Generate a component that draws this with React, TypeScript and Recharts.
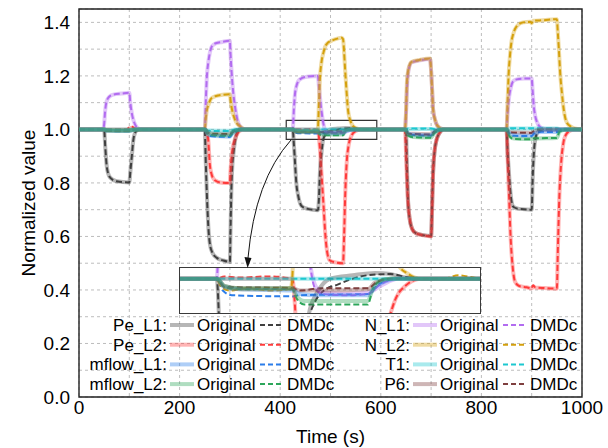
import { CartesianGrid, Line, LineChart, ReferenceArea, XAxis, YAxis } from "recharts";

type P = [number, number];

// [time (s), normalized value]
const peL1Orig: P[] = [
  [0, 1], [50, 1], [52, 0.94], [55, 0.865], [58, 0.835], [62, 0.82], [75, 0.806], [100, 0.802], [102, 0.84], [105, 0.9], [108, 0.96], [111, 0.985], [116, 0.997], [125, 1],
  [250, 1], [252, 0.88], [255, 0.72], [257, 0.64], [260, 0.575], [265, 0.54], [274, 0.52], [287, 0.51], [300, 0.505], [301, 0.6], [303, 0.78], [305, 0.87], [307, 0.91], [310, 0.955], [313, 0.982], [320, 1],
  [425, 1], [427, 0.95], [429, 0.89], [432, 0.8], [436, 0.75], [443, 0.713], [455, 0.703], [475, 0.698], [477, 0.74], [479, 0.84], [482, 0.91], [486, 0.97], [490, 0.985], [495, 0.995], [500, 1], [515, 1.003], [530, 1.005], [540, 1.004], [550, 1.001], [560, 1],
  [650, 1], [652, 0.86], [654, 0.74], [657, 0.67], [662, 0.63], [670, 0.612], [685, 0.605], [700, 0.602], [702, 0.72], [704, 0.84], [707, 0.92], [711, 0.962], [716, 0.985], [725, 1],
  [850, 1], [852, 0.92], [854, 0.86], [857, 0.78], [860, 0.73], [864, 0.71], [875, 0.703], [900, 0.7], [902, 0.82], [905, 0.93], [908, 0.97], [912, 0.99], [920, 1], [1000, 1],
];
const peL1Dmdc: P[] = [
  [0, 1], [50, 1], [52, 0.94], [55, 0.865], [58, 0.835], [62, 0.82], [75, 0.806], [100, 0.802], [102, 0.84], [105, 0.9], [108, 0.96], [111, 0.985], [116, 0.997], [125, 1],
  [250, 1], [252, 0.88], [255, 0.72], [257, 0.64], [260, 0.575], [265, 0.54], [274, 0.52], [287, 0.51], [300, 0.505], [301, 0.6], [303, 0.78], [305, 0.87], [307, 0.91], [310, 0.955], [313, 0.982], [320, 1],
  [425, 1], [427, 0.95], [429, 0.89], [432, 0.8], [436, 0.75], [443, 0.713], [455, 0.703], [475, 0.698], [477, 0.74], [479, 0.84], [482, 0.91], [486, 0.965], [490, 0.98], [496, 0.99], [505, 0.995], [515, 1], [525, 1.003], [540, 1.004], [552, 1.001], [565, 1],
  [650, 1], [652, 0.86], [654, 0.74], [657, 0.67], [662, 0.63], [670, 0.612], [685, 0.605], [700, 0.602], [702, 0.72], [704, 0.84], [707, 0.92], [711, 0.962], [716, 0.985], [725, 1],
  [850, 1], [852, 0.92], [854, 0.86], [857, 0.78], [860, 0.73], [864, 0.71], [875, 0.703], [900, 0.7], [902, 0.82], [905, 0.93], [908, 0.97], [912, 0.99], [920, 0.998], [928, 1.003], [938, 1], [1000, 1],
];
const peL2Orig: P[] = [
  [0, 1], [95, 1], [100, 1.003], [105, 1.006], [112, 1.002], [120, 1],
  [250, 1], [254, 0.99], [257, 0.96], [260, 0.87], [264, 0.83], [270, 0.81], [284, 0.801], [300, 0.8], [301, 0.84], [303, 0.89], [306, 0.935], [310, 0.963], [315, 0.985], [322, 0.997], [330, 1],
  [475, 1], [478, 0.95], [482, 0.84], [486, 0.72], [490, 0.6], [494, 0.535], [499, 0.51], [510, 0.503], [525, 0.5], [527, 0.6], [529, 0.74], [532, 0.87], [536, 0.94], [542, 0.978], [550, 0.994], [560, 1],
  [648, 1], [651, 0.86], [654, 0.73], [658, 0.66], [663, 0.625], [670, 0.612], [685, 0.604], [700, 0.6], [702, 0.7], [704, 0.84], [707, 0.92], [711, 0.962], [716, 0.985], [725, 1],
  [850, 1], [852, 0.9], [855, 0.75], [858, 0.6], [862, 0.49], [867, 0.43], [875, 0.415], [890, 0.41], [900, 0.406], [903, 0.414], [907, 0.409], [925, 0.407], [950, 0.405], [952, 0.55], [955, 0.75], [958, 0.86], [963, 0.95], [968, 0.98], [975, 0.994], [985, 1], [1000, 1],
];
const peL2Dmdc: P[] = [
  [0, 1], [95, 1], [100, 1.008], [104, 1.012], [110, 1.004], [120, 1],
  [250, 1], [254, 0.99], [257, 0.96], [260, 0.87], [264, 0.83], [270, 0.81], [284, 0.801], [300, 0.8], [301, 0.84], [303, 0.89], [306, 0.935], [310, 0.963], [315, 0.985], [322, 0.997], [330, 1],
  [425, 1], [430, 1.002], [440, 1.001], [460, 1.002], [475, 1], [478, 0.95], [482, 0.84], [486, 0.72], [490, 0.6], [494, 0.535], [499, 0.51], [510, 0.503], [525, 0.5], [527, 0.6], [529, 0.74], [532, 0.87], [536, 0.94], [542, 0.978], [550, 0.994], [560, 1],
  [648, 1], [651, 0.86], [654, 0.73], [658, 0.66], [663, 0.625], [670, 0.612], [685, 0.604], [700, 0.6], [702, 0.7], [704, 0.84], [707, 0.92], [711, 0.962], [716, 0.985], [725, 1],
  [850, 1], [852, 0.9], [855, 0.75], [858, 0.6], [862, 0.49], [867, 0.43], [875, 0.415], [890, 0.41], [900, 0.406], [903, 0.418], [907, 0.41], [925, 0.407], [950, 0.405], [952, 0.55], [955, 0.75], [958, 0.86], [963, 0.95], [968, 0.98], [975, 0.994], [985, 1], [1000, 1],
];
const mflowL1Orig: P[] = [
  [0, 1], [50, 1], [55, 0.995], [100, 0.994], [110, 0.999], [120, 1],
  [250, 1], [255, 0.985], [262, 0.976], [300, 0.973], [305, 0.985], [315, 0.997], [325, 1],
  [425, 1], [430, 0.993], [440, 0.991], [475, 0.99], [480, 0.987], [490, 0.986], [525, 0.986], [530, 0.993], [537, 0.998], [545, 1],
  [648, 1], [655, 0.985], [665, 0.98], [700, 0.978], [706, 0.99], [715, 0.998], [725, 1],
  [850, 1], [856, 0.985], [865, 0.978], [900, 0.976], [905, 0.985], [920, 0.99], [950, 0.99], [956, 0.997], [965, 1], [1000, 1],
];
const mflowL1Dmdc: P[] = [
  [0, 1], [50, 1], [55, 0.994], [100, 0.993], [110, 0.999], [120, 1],
  [250, 1], [255, 0.983], [262, 0.975], [300, 0.972], [305, 0.985], [315, 0.997], [325, 1],
  [425, 1], [429, 0.99], [435, 0.986], [475, 0.985], [480, 0.986], [525, 0.987], [532, 0.995], [545, 1],
  [648, 1], [655, 0.984], [665, 0.979], [700, 0.977], [706, 0.99], [715, 0.998], [725, 1],
  [850, 1], [856, 0.983], [865, 0.976], [900, 0.975], [905, 0.985], [920, 0.991], [950, 0.99], [956, 0.997], [965, 1], [1000, 1],
];
const mflowL2Orig: P[] = [
  [0, 1], [50, 1], [55, 0.996], [100, 0.995], [110, 0.999], [120, 1],
  [250, 1], [256, 0.985], [265, 0.98], [300, 0.978], [305, 0.988], [315, 0.997], [325, 1],
  [425, 1], [430, 0.994], [440, 0.992], [475, 0.992], [478, 0.985], [483, 0.981], [525, 0.981], [528, 0.99], [533, 0.998], [540, 1],
  [648, 1], [655, 0.978], [665, 0.972], [700, 0.97], [706, 0.985], [715, 0.997], [725, 1],
  [850, 1], [856, 0.975], [865, 0.966], [900, 0.964], [905, 0.966], [950, 0.968], [955, 0.99], [965, 0.999], [975, 1], [1000, 1],
];
const mflowL2Dmdc: P[] = [
  [0, 1], [50, 1], [55, 0.995], [100, 0.995], [110, 0.999], [120, 1],
  [250, 1], [256, 0.984], [265, 0.979], [300, 0.977], [305, 0.988], [315, 0.997], [325, 1],
  [425, 1], [430, 0.993], [440, 0.991], [475, 0.991], [478, 0.983], [483, 0.978], [525, 0.978], [528, 0.99], [533, 0.998], [540, 1],
  [648, 1], [655, 0.977], [665, 0.971], [700, 0.969], [706, 0.985], [715, 0.997], [725, 1],
  [850, 1], [856, 0.974], [865, 0.964], [900, 0.963], [905, 0.967], [950, 0.968], [955, 0.99], [965, 0.999], [975, 1], [1000, 1],
];
const nL1Orig: P[] = [
  [0, 1], [48, 1], [50, 1.02], [52, 1.07], [55, 1.105], [60, 1.122], [68, 1.13], [85, 1.134], [100, 1.137], [102, 1.1], [105, 1.06], [109, 1.03], [114, 1.01], [120, 1.002], [130, 1],
  [250, 1], [252, 1.1], [254, 1.19], [257, 1.25], [260, 1.285], [264, 1.31], [272, 1.322], [285, 1.327], [300, 1.331], [301, 1.29], [303, 1.225], [306, 1.15], [310, 1.087], [315, 1.035], [320, 1.012], [330, 1],
  [425, 1], [427, 1.07], [429, 1.125], [432, 1.16], [439, 1.187], [453, 1.197], [475, 1.2], [477, 1.16], [479, 1.12], [482, 1.07], [486, 1.02], [490, 0.995], [495, 0.988], [510, 0.987], [525, 0.988], [535, 0.995], [545, 1],
  [648, 1], [650, 1.05], [652, 1.15], [655, 1.22], [661, 1.25], [678, 1.258], [698, 1.263], [700, 1.22], [702, 1.15], [704, 1.075], [708, 1.035], [712, 1.015], [720, 1.003], [730, 1],
  [850, 1], [852, 1.06], [855, 1.12], [859, 1.16], [863, 1.18], [870, 1.187], [885, 1.19], [900, 1.19], [902, 1.14], [904, 1.09], [907, 1.05], [910, 1.03], [915, 1.012], [920, 1.005], [930, 1], [1000, 1],
];
const nL1Dmdc: P[] = [
  [0, 1], [48, 1], [50, 1.02], [52, 1.07], [55, 1.105], [60, 1.122], [68, 1.13], [85, 1.134], [100, 1.137], [102, 1.1], [105, 1.06], [109, 1.03], [114, 1.01], [120, 1.002], [130, 1],
  [250, 1], [252, 1.1], [254, 1.19], [257, 1.25], [260, 1.285], [264, 1.31], [272, 1.322], [285, 1.327], [300, 1.331], [301, 1.29], [303, 1.225], [306, 1.15], [310, 1.087], [315, 1.035], [320, 1.012], [330, 1],
  [425, 1], [427, 1.07], [429, 1.125], [432, 1.16], [439, 1.187], [453, 1.197], [475, 1.2], [477, 1.16], [479, 1.12], [482, 1.07], [486, 1.02], [490, 0.992], [495, 0.987], [510, 0.986], [525, 0.987], [533, 0.995], [545, 1],
  [648, 1], [650, 1.05], [652, 1.15], [655, 1.22], [661, 1.25], [678, 1.258], [698, 1.263], [700, 1.22], [702, 1.15], [704, 1.075], [708, 1.035], [712, 1.015], [720, 1.003], [730, 1],
  [850, 1], [852, 1.06], [855, 1.12], [859, 1.16], [863, 1.18], [870, 1.187], [885, 1.19], [900, 1.19], [902, 1.14], [904, 1.09], [907, 1.05], [910, 1.03], [915, 1.012], [920, 1.005], [930, 1], [1000, 1],
];
const nL2Orig: P[] = [
  [0, 1], [50, 1], [55, 0.997], [100, 0.996], [110, 0.999], [120, 1],
  [250, 1], [252, 1.04], [254, 1.07], [257, 1.09], [261, 1.11], [266, 1.12], [277, 1.127], [300, 1.131], [301, 1.115], [303, 1.087], [306, 1.06], [310, 1.037], [315, 1.02], [320, 1.012], [330, 1],
  [425, 1], [428, 0.995], [432, 0.992], [450, 0.991], [474, 0.992], [475, 1], [477, 1.1], [479, 1.19], [482, 1.25], [486, 1.287], [492, 1.318], [505, 1.334], [515, 1.34], [522, 1.343], [525, 1.337], [527, 1.29], [529, 1.225], [532, 1.14], [535, 1.07], [540, 1.03], [545, 1.012], [552, 1.004], [560, 1], [600, 1],
  [648, 1], [650, 1.06], [652, 1.18], [655, 1.225], [661, 1.252], [678, 1.26], [698, 1.265], [700, 1.22], [702, 1.15], [704, 1.075], [708, 1.035], [712, 1.015], [720, 1.003], [730, 1],
  [850, 1], [852, 1.1], [854, 1.2], [857, 1.28], [860, 1.33], [863, 1.355], [870, 1.385], [883, 1.4], [897, 1.402], [900, 1.397], [903, 1.406], [923, 1.408], [950, 1.412], [952, 1.36], [954, 1.3], [957, 1.2], [960, 1.137], [964, 1.07], [970, 1.025], [978, 1.01], [985, 1.004], [1000, 1],
];
const nL2Dmdc: P[] = [
  [0, 1], [50, 1], [55, 0.996], [100, 0.995], [110, 0.999], [120, 1],
  [250, 1], [252, 1.04], [254, 1.07], [257, 1.09], [261, 1.11], [266, 1.12], [277, 1.127], [300, 1.131], [301, 1.115], [303, 1.087], [306, 1.06], [310, 1.037], [315, 1.02], [320, 1.012], [330, 1],
  [425, 1], [428, 0.993], [434, 0.99], [445, 0.992], [460, 0.99], [474, 0.991], [475, 1], [477, 1.1], [479, 1.19], [482, 1.25], [486, 1.287], [492, 1.318], [505, 1.334], [515, 1.34], [522, 1.343], [525, 1.337], [527, 1.29], [529, 1.225], [532, 1.14], [535, 1.07], [540, 1.03], [545, 1.012], [552, 1.004], [560, 1], [575, 1], [585, 1.003], [595, 1.001], [600, 1],
  [648, 1], [650, 1.06], [652, 1.18], [655, 1.225], [661, 1.252], [678, 1.26], [698, 1.265], [700, 1.22], [702, 1.15], [704, 1.075], [708, 1.035], [712, 1.015], [720, 1.003], [730, 1],
  [850, 1], [852, 1.1], [854, 1.2], [857, 1.28], [860, 1.33], [863, 1.355], [870, 1.385], [883, 1.4], [897, 1.402], [900, 1.397], [903, 1.406], [923, 1.408], [950, 1.412], [952, 1.36], [954, 1.3], [957, 1.2], [960, 1.137], [964, 1.07], [970, 1.025], [978, 1.01], [985, 1.004], [1000, 1],
];
const t1Orig: P[] = [
  [0, 1], [250, 1], [256, 0.996], [300, 0.995], [310, 1], [425, 1], [600, 1],
  [648, 1], [655, 1.002], [700, 1.002], [710, 1], [850, 1], [856, 1.003], [950, 1.003], [960, 1], [1000, 1],
];
const t1Dmdc: P[] = [
  [0, 1], [250, 1], [256, 0.995], [300, 0.994], [310, 1], [425, 1], [600, 1],
  [648, 1], [655, 1.003], [700, 1.003], [710, 1], [850, 1], [856, 1.004], [950, 1.004], [960, 1], [1000, 1],
];
const p6Orig: P[] = [
  [0, 1], [50, 1], [55, 0.997], [100, 0.997], [110, 1],
  [250, 1], [256, 0.99], [265, 0.985], [300, 0.984], [306, 0.992], [315, 0.999], [325, 1],
  [425, 1], [430, 0.994], [440, 0.992], [475, 0.992], [480, 0.99], [500, 0.99], [525, 0.991], [530, 0.997], [540, 1],
  [648, 1], [655, 0.985], [700, 0.982], [708, 0.995], [720, 1],
  [850, 1], [856, 0.99], [900, 0.988], [905, 0.995], [915, 1], [1000, 1],
];
const p6Dmdc: P[] = [
  [0, 1], [50, 1], [55, 0.996], [100, 0.996], [110, 1],
  [250, 1], [256, 0.989], [265, 0.984], [300, 0.983], [306, 0.992], [315, 0.999], [325, 1],
  [425, 1], [430, 0.993], [475, 0.992], [480, 0.99], [495, 0.992], [510, 0.992], [525, 0.992], [532, 0.998], [540, 1],
  [648, 1], [655, 0.984], [700, 0.981], [708, 0.995], [720, 1],
  [850, 1], [856, 0.989], [900, 0.987], [905, 0.995], [915, 1], [1000, 1],
];

const xTicks = [0, 100, 200, 300, 400, 500, 600, 700, 800, 900, 1000];
const yTicks = [0, 0.1, 0.2, 0.3, 0.4, 0.5, 0.6, 0.7, 0.8, 0.9, 1.0, 1.1, 1.2, 1.3, 1.4];
const legendCols = [
  ["Pe_L1", "Pe_L2", "mflow_L1", "mflow_L2"],
  ["N_L1", "N_L2", "T1", "P6"],
];
// stacking order of the translucent originals (last = on top)
const origOrder = ["Pe_L1", "Pe_L2", "N_L1", "N_L2", "P6", "mflow_L1", "T1", "mflow_L2"];

const toPts = (a: P[]) => a.map(([t, v]) => ({ t, v }));

const series = [
  { name: "Pe_L1", color: "#404040", orig: toPts(peL1Orig), dmdc: toPts(peL1Dmdc) },
  { name: "Pe_L2", color: "#ff3b3b", orig: toPts(peL2Orig), dmdc: toPts(peL2Dmdc) },
  { name: "mflow_L1", color: "#2b7de9", orig: toPts(mflowL1Orig), dmdc: toPts(mflowL1Dmdc) },
  { name: "mflow_L2", color: "#2ca65a", orig: toPts(mflowL2Orig), dmdc: toPts(mflowL2Dmdc) },
  { name: "N_L1", color: "#b26cf0", orig: toPts(nL1Orig), dmdc: toPts(nL1Dmdc) },
  { name: "N_L2", color: "#d4a00c", orig: toPts(nL2Orig), dmdc: toPts(nL2Dmdc) },
  { name: "T1", color: "#1cc8d0", orig: toPts(t1Orig), dmdc: toPts(t1Dmdc) },
  { name: "P6", color: "#7f3f3f", orig: toPts(p6Orig), dmdc: toPts(p6Dmdc) },
];

const FONT = "'Liberation Sans', Arial, Helvetica, sans-serif";
const ORIG_OPACITY = 0.38;
const DASH = "6 3";

// dashed model first, the translucent originals on top of them
function renderLines() {
  const dmdc = series.map((s) => (
    <Line
      key={s.name + "-dmdc"}
      data={s.dmdc}
      dataKey="v"
      type="monotone"
      stroke={s.color}
      strokeWidth={2}
      strokeDasharray={DASH}
      dot={false}
      activeDot={false}
      isAnimationActive={false}
    />
  ));
  const orig = origOrder.map((n) => {
    const s = series.find((d) => d.name === n)!;
    return (
      <Line
        key={s.name + "-orig"}
        data={s.orig}
        dataKey="v"
        type="monotone"
        stroke={s.color}
        strokeOpacity={ORIG_OPACITY}
        strokeWidth={4}
        dot={false}
        activeDot={false}
        isAnimationActive={false}
      />
    );
  });
  return [...dmdc, ...orig];
}

const YTitle = ({ viewBox }: any) => (
  <text
    x={viewBox.x + 35}
    y={viewBox.y + viewBox.height / 2}
    transform={`rotate(-90, ${viewBox.x + 35}, ${viewBox.y + viewBox.height / 2})`}
    textAnchor="middle"
    fontSize={19}
    fontFamily={FONT}
    fill="#000"
  >
    Normalized value
  </text>
);

const XTitle = ({ viewBox }: any) => (
  <text x={viewBox.x + viewBox.width / 2} y={viewBox.y + 46} textAnchor="middle" fontSize={19} fontFamily={FONT} fill="#000">
    Time (s)
  </text>
);

function LegendBlock() {
  const rowY = [331, 350.7, 370.4, 390.1];
  const colX = [167, 410];
  return (
    <g fontFamily={FONT} fontSize={17} fill="#000">
      {legendCols.map((names, c) =>
        names.map((name, r) => {
          const s = series.find((d) => d.name === name)!;
          const x = colX[c];
          const y = rowY[r];
          return (
            <g key={name}>
              <text x={x} y={y} textAnchor="end">{name}:</text>
              <line x1={x + 3} x2={x + 27} y1={y - 6} y2={y - 6} stroke={s.color} strokeOpacity={ORIG_OPACITY} strokeWidth={4} />
              <text x={x + 30} y={y}>Original</text>
              <line x1={x + 93} x2={x + 117} y1={y - 6} y2={y - 6} stroke={s.color} strokeWidth={2} strokeDasharray="5 3" />
              <text x={x + 120} y={y}>DMDc</text>
            </g>
          );
        })
      )}
    </g>
  );
}

export default function App() {
  return (
    <div style={{ position: "absolute", left: 0, top: 0, width: 608, height: 448, background: "#fff" }}>
      <LineChart width={608} height={448} margin={{ top: 9, right: 26, bottom: 0, left: 0 }}>
        <CartesianGrid stroke="#bdbdbd" strokeDasharray="3 3" />
        <XAxis
          type="number"
          dataKey="t"
          domain={[0, 1000]}
          ticks={xTicks}
          interval={0}
          height={51}
          tickLine={false}
          axisLine={false}
          tickSize={0}
          tickMargin={4}
          tickFormatter={(v: number) => (v % 200 === 0 ? String(v) : "")}
          tick={{ fontSize: 19, fill: "#000", fontFamily: FONT }}
          label={<XTitle />}
        />
        <YAxis
          type="number"
          domain={[0, 1.45]}
          ticks={yTicks}
          interval={0}
          width={79}
          tickLine={false}
          axisLine={false}
          tickSize={0}
          tickMargin={9}
          tickFormatter={(v: number) => (Math.round(v * 10) % 2 === 0 ? v.toFixed(1) : "")}
          tick={{ fontSize: 19, fill: "#000", fontFamily: FONT }}
          label={<YTitle />}
        />
        {renderLines()}
        <ReferenceArea x1={412} x2={592} y1={0.963} y2={1.034} fill="none" fillOpacity={0} stroke="#333" strokeWidth={1.2} ifOverflow="extendDomain" />
        <ReferenceArea x1={0} x2={1000} y1={0} y2={1.45} fill="none" fillOpacity={0} stroke="#222" strokeWidth={1.4} />
      </LineChart>

      <div style={{ position: "absolute", left: 179, top: 267, width: 302, height: 47 }}>
        <LineChart width={302} height={47} margin={{ top: 0, right: 0, bottom: 0, left: 0 }}>
          <XAxis type="number" dataKey="t" domain={[400, 600]} allowDataOverflow hide />
          <YAxis type="number" domain={[0.97, 1.01]} allowDataOverflow hide />
          {renderLines()}
        </LineChart>
        <div style={{ position: "absolute", left: 0, top: 0, width: 302, height: 47, boxSizing: "border-box", border: "1.5px solid #3a3a3a" }} />
      </div>

      <svg width={608} height={448} style={{ position: "absolute", left: 0, top: 0, pointerEvents: "none" }}>
        <path d="M 291 140 Q 255 180 248 258" fill="none" stroke="#111" strokeWidth={1} />
        <polygon points="244.5,257 251.5,258 247.6,268" fill="#111" />
        <LegendBlock />
      </svg>
    </div>
  );
}
